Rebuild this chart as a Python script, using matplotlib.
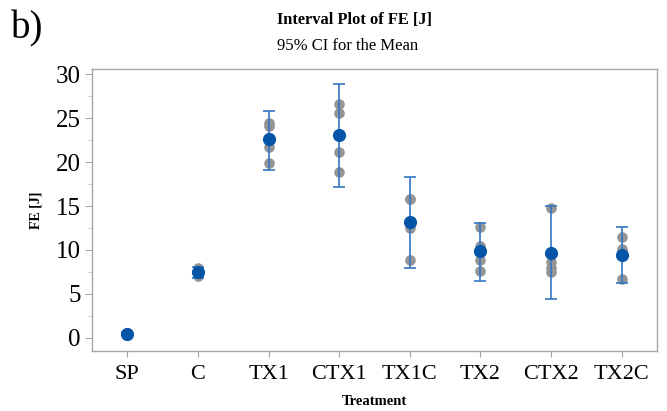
import matplotlib
matplotlib.use("Agg")
import matplotlib.pyplot as plt
from matplotlib.ticker import MultipleLocator

# Treatment groups
treatments = ["SP", "C", "TX1", "CTX1", "TX1C", "TX2", "CTX2", "TX2C"]

# Individual FE [J] observations per treatment
obs_SP = [0.35, 0.45, 0.50, 0.55]
obs_C = [7.0, 7.4, 7.6, 7.9]
obs_TX1 = [19.9, 21.7, 24.1, 24.5]
obs_CTX1 = [18.9, 21.2, 25.6, 26.6]
obs_TX1C = [8.85, 12.5, 15.8, 15.8]
obs_TX2 = [7.6, 8.85, 10.4, 12.6]
obs_CTX2 = [7.5, 8.0, 8.6, 14.75]
obs_TX2C = [6.7, 9.6, 10.1, 11.5]
observations = [obs_SP, obs_C, obs_TX1, obs_CTX1, obs_TX1C, obs_TX2, obs_CTX2, obs_TX2C]

# Group means and 95% confidence interval bounds
means = [0.46, 7.48, 22.6, 23.1, 13.2, 9.85, 9.7, 9.45]
ci_low = [0.30, 6.84, 19.06, 17.16, 7.9, 6.42, 4.41, 6.2]
ci_high = [0.62, 8.09, 25.78, 28.9, 18.34, 13.06, 14.97, 12.57]

plt.rcParams["font.family"] = ["Liberation Serif", "DejaVu Serif"]

fig = plt.figure(figsize=(6.67, 4.11), dpi=100)
ax = fig.add_axes([0.138, 0.146, 0.847, 0.685])

mean_color = "#0454a8"
bar_color = "#3476c2"
obs_color = "#959595"
axis_grey = "#a6a6a6"

x = list(range(len(treatments)))

for i, vals in enumerate(observations):
    ax.scatter([i] * len(vals), vals, s=58, color=obs_color, zorder=2, linewidths=0)

yerr = [[m - lo for m, lo in zip(means, ci_low)], [hi - m for m, hi in zip(means, ci_high)]]
ax.errorbar(x, means, yerr=yerr, fmt="none", ecolor=bar_color, elinewidth=1.2,
            capsize=4.5, capthick=1.2, zorder=3)
ax.scatter(x, means, s=90, color=mean_color, zorder=4, linewidths=0)

ax.set_xlim(-0.5, 7.5)
ax.set_ylim(-1.5, 30.55)
ax.set_xticks(x)
ax.set_xticklabels(treatments, fontsize=16)
ax.yaxis.set_major_locator(MultipleLocator(5))
ax.yaxis.set_minor_locator(MultipleLocator(2.5))
ax.tick_params(axis="y", which="major", labelsize=18, length=5, color=axis_grey, pad=3)
ax.tick_params(axis="y", which="minor", length=3, color="#c8c8c8")
ax.tick_params(axis="x", which="major", length=4, color=axis_grey, pad=6)

for sp in ax.spines.values():
    sp.set_color(axis_grey)
    sp.set_linewidth(1.0)

ax.set_ylabel("FE [J]", fontsize=10, fontweight="bold", labelpad=10)
ax.set_xlabel("Treatment", fontsize=10.5, fontweight="bold", labelpad=8)

fig.text(0.532, 0.952, "Interval Plot of FE [J]", ha="center", va="center",
         fontsize=11.8, fontweight="bold")
fig.text(0.521, 0.888, "95% CI for the Mean", ha="center", va="center", fontsize=12)
fig.text(0.017, 0.93, "b)", ha="left", va="center", fontsize=28)

fig.savefig("out.png", dpi=100)
